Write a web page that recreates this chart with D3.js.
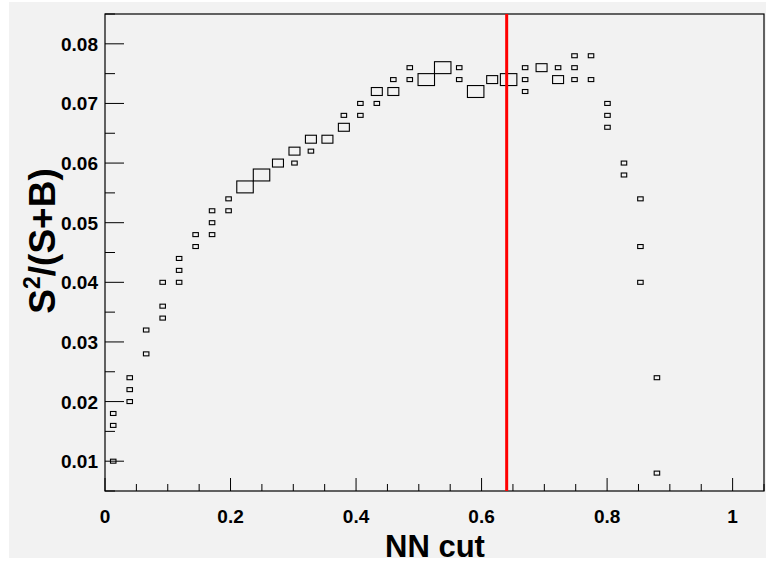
<!DOCTYPE html>
<html>
<head>
<meta charset="utf-8">
<script src="https://cdn.jsdelivr.net/npm/d3@7"></script>
<style>
html,body{margin:0;padding:0;background:#fff;}
svg{display:block;}
text{font-family:"Liberation Sans",Arial,Helvetica,sans-serif;font-weight:bold;fill:#000;}
</style>
</head>
<body>
<svg id="chart" width="766" height="563"></svg>
<script>
// ---- data (TH2 "box" plot: NN cut vs S^2/(S+B)) ----
const nnCut = [
  0.0131,0.0131,0.0131,
  0.0394,0.0394,0.0394,
  0.0656,0.0656,
  0.0919,0.0919,0.0919,
  0.1181,0.1181,0.1181,
  0.1444,0.1444,
  0.1706,0.1706,0.1706,
  0.1969,0.1969,
  0.2231,
  0.2494,
  0.2756,
  0.3019,0.3019,
  0.3281,0.3281,
  0.3544,
  0.3806,0.3806,
  0.4069,0.4069,
  0.4331,0.4331,
  0.4594,0.4594,
  0.4856,0.4856,
  0.5119,
  0.5381,
  0.5644,0.5644,
  0.5906,
  0.6169,
  0.6431,
  0.6694,0.6694,0.6694,
  0.6956,
  0.7219,0.7219,
  0.7481,0.7481,0.7481,
  0.7744,0.7744,
  0.8006,0.8006,0.8006,
  0.8269,0.8269,
  0.8531,0.8531,0.8531,
  0.8794,0.8794
];
const s2sb = [
  0.010,0.016,0.018,
  0.020,0.022,0.024,
  0.028,0.032,
  0.034,0.036,0.040,
  0.040,0.042,0.044,
  0.046,0.048,
  0.048,0.050,0.052,
  0.052,0.054,
  0.056,
  0.058,
  0.060,
  0.060,0.062,
  0.062,0.064,
  0.064,
  0.066,0.068,
  0.068,0.070,
  0.070,0.072,
  0.072,0.074,
  0.074,0.076,
  0.074,
  0.076,
  0.074,0.076,
  0.072,
  0.074,
  0.074,
  0.072,0.074,0.076,
  0.076,
  0.074,0.076,
  0.074,0.076,0.078,
  0.074,0.078,
  0.066,0.068,0.070,
  0.058,0.060,
  0.040,0.046,0.054,
  0.008,0.024
];
const entries = [
  1,1,1,
  1,1,1,
  1,1,
  1,1,1,
  1,1,1,
  1,1,
  1,1,1,
  1,1,
  3,
  3,
  2,
  1,2,
  1,2,
  2,
  2,1,
  1,1,
  1,2,
  2,1,
  1,1,
  3,
  3,
  1,1,
  3,
  2,
  3,
  1,1,1,
  2,
  2,1,
  1,1,1,
  1,1,
  1,1,1,
  1,1,
  1,1,1,
  1,1
];
const xTicks = [0, 0.2, 0.4, 0.6, 0.8, 1];
const xTickLabels = ["0", "0.2", "0.4", "0.6", "0.8", "1"];
const yTicks = [0.01, 0.02, 0.03, 0.04, 0.05, 0.06, 0.07, 0.08];
const yTickLabels = ["0.01","0.02","0.03","0.04","0.05","0.06","0.07","0.08"];
const cutValue = [0.64];
const xDomain = [0, 1.05];
const yDomain = [0.005, 0.085];
const nBinsX = 40, nBinsY = 40;

// ---- layout ----
const svg = d3.select("#chart");
const L = 105, R = 764, T = 14, B = 491;
const x = d3.scaleLinear().domain(xDomain).range([L, R]);
const y = d3.scaleLinear().domain(yDomain).range([B, T]);
const binW = (xDomain[1]-xDomain[0])/nBinsX;
const binH = (yDomain[1]-yDomain[0])/nBinsY;
const maxEntries = d3.max(entries);
const sizeScale = d3.scaleLinear().domain([0, maxEntries]).range([0, 1]);

// canvas background
svg.append("rect").attr("x", 9).attr("y", 2).attr("width", 757).attr("height", 556).attr("fill", "#f2f2f2");

// frame
svg.append("rect").attr("x", L).attr("y", T).attr("width", R-L).attr("height", B-T)
  .attr("fill", "#f2f2f2").attr("stroke", "#000").attr("stroke-width", 1.2);

// boxes
const cells = nnCut.map((v, i) => ({x: v, y: s2sb[i], n: entries[i]}));
const cellPxW = x(binW) - x(0);
const cellPxH = y(0) - y(binH);
svg.append("g").selectAll("rect").data(cells).join("rect")
  .attr("x", d => x(d.x) - cellPxW*sizeScale(d.n)/2)
  .attr("y", d => y(d.y) - cellPxH*sizeScale(d.n)/2)
  .attr("width", d => cellPxW*sizeScale(d.n))
  .attr("height", d => cellPxH*sizeScale(d.n))
  .attr("fill", "none").attr("stroke", "#000").attr("stroke-width", 1.1);

// x axis ticks (inside)
const xMinor = d3.range(0, 1.05 + 1e-9, 0.05);
svg.append("g").selectAll("line").data(xMinor).join("line")
  .attr("x1", d => x(d)).attr("x2", d => x(d))
  .attr("y1", B).attr("y2", (d, i) => B - (i % 4 === 0 ? 13 : 7))
  .attr("stroke", "#000").attr("stroke-width", 1);
svg.append("g").selectAll("text").data(xTicks).join("text")
  .attr("x", d => x(d)).attr("y", 523).attr("text-anchor", "middle")
  .attr("font-size", 19).text((d, i) => xTickLabels[i]);

// y axis ticks (inside)
const yMinor = d3.range(0.005, 0.0851, 0.005);
svg.append("g").selectAll("line").data(yMinor).join("line")
  .attr("x1", L).attr("x2", (d, i) => L + (i % 2 === 1 ? 19 : 10))
  .attr("y1", d => y(d)).attr("y2", d => y(d))
  .attr("stroke", "#000").attr("stroke-width", 1);
svg.append("g").selectAll("text").data(yTicks).join("text")
  .attr("x", 98).attr("y", d => y(d) + 7).attr("text-anchor", "end")
  .attr("font-size", 19).text((d, i) => yTickLabels[i]);

// red cut line
svg.append("g").selectAll("line").data(cutValue).join("line")
  .attr("x1", d => x(d)).attr("x2", d => x(d)).attr("y1", T).attr("y2", B)
  .attr("stroke", "#ff0000").attr("stroke-width", 3);

// axis titles
svg.append("text").attr("x", 435).attr("y", 557).attr("text-anchor", "middle")
  .attr("font-size", 31).text("NN cut");
const yt = svg.append("text").attr("transform", "translate(55,241) rotate(-90)")
  .attr("text-anchor", "middle").attr("font-size", 37);
yt.append("tspan").text("S");
yt.append("tspan").attr("font-size", 23).attr("dy", -15).text("2");
yt.append("tspan").attr("dy", 15).text("/(S+B)");
</script>
</body>
</html>
